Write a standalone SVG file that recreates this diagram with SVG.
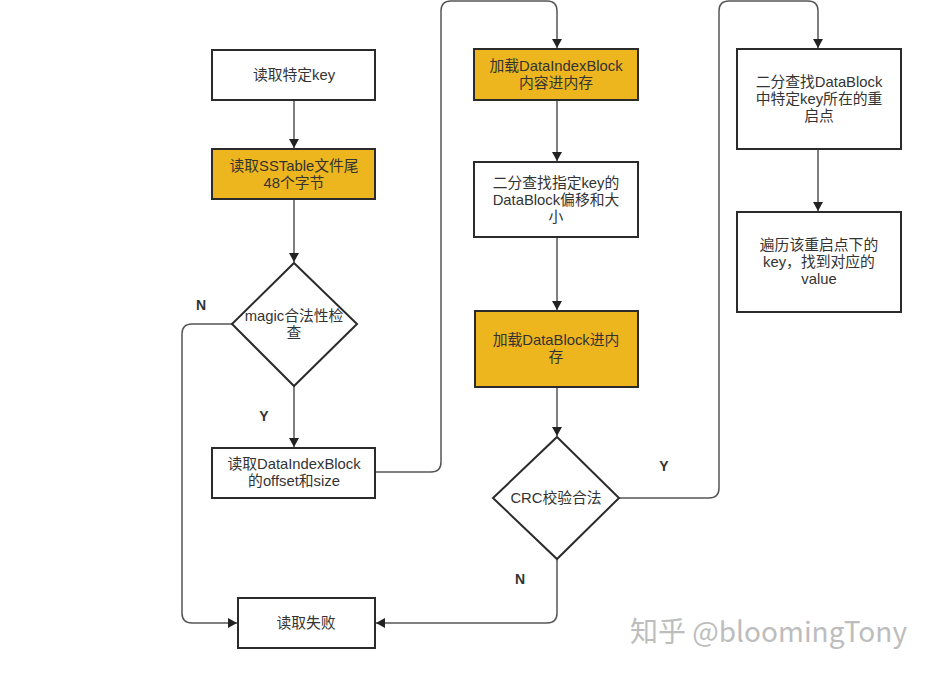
<svg xmlns="http://www.w3.org/2000/svg" width="933" height="674" viewBox="0 0 933 674">
<style>
.box{fill:#fff;stroke:#2b2b2b;stroke-width:2}
.yel{fill:#EDB51E;stroke:#2b2b2b;stroke-width:2}
.t{font-family:"Liberation Sans","Noto Sans CJK SC",sans-serif;font-size:14.8px;fill:#333;text-anchor:middle}
.lbl{font-family:"Liberation Sans","Noto Sans CJK SC",sans-serif;font-size:14px;fill:#333;font-weight:bold;text-anchor:middle}
.c{fill:none;stroke:#555;stroke-width:1.5}
.wm{font-family:"Noto Sans CJK SC","Liberation Sans",sans-serif;font-size:28px;fill:#bdbdbd}
</style>
<defs>
<marker id="ah" markerWidth="10" markerHeight="10" refX="9" refY="5" orient="auto" markerUnits="userSpaceOnUse">
<path d="M0,0 L9,5 L0,10 Z" fill="#222"/>
</marker>
</defs>
<rect width="933" height="674" fill="#fff"/>
<g id="connectors">
<path class="c" d="M294,100 V148" marker-end="url(#ah)"/>
<path class="c" d="M294,199 V262" marker-end="url(#ah)"/>
<path class="c" d="M294,386 V447" marker-end="url(#ah)"/>
<path class="c" d="M232,324 H192 Q182,324 182,334 V613 Q182,623 192,623 H237" marker-end="url(#ah)"/>
<path class="c" d="M375,472 H431 Q441,472 441,462 V11 Q441,1 451,1 H547 Q557,1 557,11 V48" marker-end="url(#ah)"/>
<path class="c" d="M557,100 V161" marker-end="url(#ah)"/>
<path class="c" d="M557,237 V310" marker-end="url(#ah)"/>
<path class="c" d="M557,387 V436" marker-end="url(#ah)"/>
<path class="c" d="M619,498 H709 Q719,498 719,488 V11 Q719,1 729,1 H808 Q818,1 818,11 V48" marker-end="url(#ah)"/>
<path class="c" d="M818,149 V211" marker-end="url(#ah)"/>
<path class="c" d="M557,559 V613 Q557,623 547,623 H376" marker-end="url(#ah)"/>
<text class="lbl" x="201" y="310">N</text>
<text class="lbl" x="264" y="421">Y</text>
<text class="lbl" x="664" y="471">Y</text>
<text class="lbl" x="520" y="584">N</text>
</g>
<g id="n1"><rect class="box" x="212" y="50" width="163" height="50"/><text class="t" x="294" y="80">读取特定key</text></g>
<g id="n2"><rect class="yel" x="212" y="149" width="163" height="50"/><text class="t" x="294" y="171">读取SSTable文件尾</text><text class="t" x="294" y="188">48个字节</text></g>
<g id="n3"><path class="box" d="M294,263 L357,324 L294,386 L232,324 Z"/><text class="t" x="294" y="321">magic合法性检</text><text class="t" x="294" y="338">查</text></g>
<g id="n4"><rect class="box" x="212" y="448" width="163" height="50"/><text class="t" x="294" y="469">读取DataIndexBlock</text><text class="t" x="294" y="486">的offset和size</text></g>
<g id="n5"><rect class="yel" x="474" y="49" width="164" height="51"/><text class="t" x="556" y="71">加载DataIndexBlock</text><text class="t" x="556" y="88">内容进内存</text></g>
<g id="n6"><rect class="box" x="474" y="162" width="164" height="75"/><text class="t" x="556" y="188">二分查找指定key的</text><text class="t" x="556" y="205">DataBlock偏移和大</text><text class="t" x="556" y="222">小</text></g>
<g id="n7"><rect class="yel" x="475" y="311" width="163" height="76"/><text class="t" x="556" y="345">加载DataBlock进内</text><text class="t" x="556" y="362">存</text></g>
<g id="n8"><path class="box" d="M557,437 L619,498 L557,559 L493,498 Z"/><text class="t" x="556" y="503">CRC校验合法</text></g>
<g id="n9"><rect class="box" x="737" y="49" width="164" height="100"/><text class="t" x="819" y="87">二分查找DataBlock</text><text class="t" x="819" y="104">中特定key所在的重</text><text class="t" x="819" y="121">启点</text></g>
<g id="n10"><rect class="box" x="737" y="212" width="164" height="100"/><text class="t" x="819" y="250">遍历该重启点下的</text><text class="t" x="819" y="267">key，找到对应的</text><text class="t" x="819" y="284">value</text></g>
<g id="n11"><rect class="box" x="238" y="598" width="137" height="50"/><text class="t" x="306" y="628">读取失败</text></g>
<text class="wm" x="630" y="642">知乎 @bloomingTony</text>
</svg>
